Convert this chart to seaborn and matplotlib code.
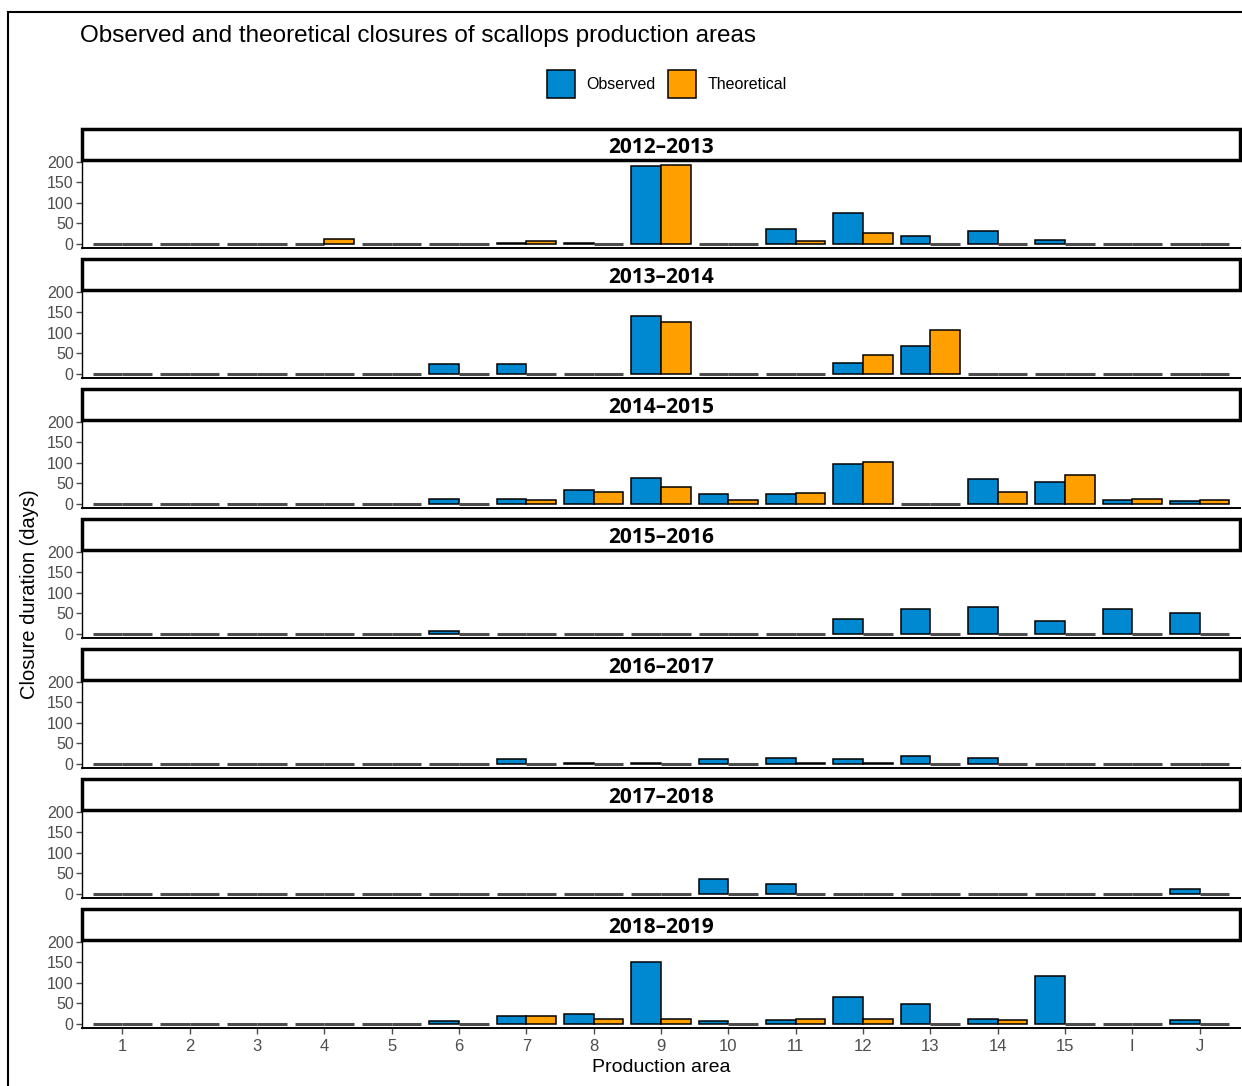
import matplotlib
matplotlib.use("Agg")
import matplotlib.pyplot as plt
from matplotlib.patches import Patch, Rectangle
import seaborn as sns
import pandas as pd

areas = ["1", "2", "3", "4", "5", "6", "7", "8", "9", "10", "11", "12", "13", "14", "15", "I", "J"]
seasons = ["2012–2013", "2013–2014", "2014–2015", "2015–2016", "2016–2017", "2017–2018", "2018–2019"]

obs_2012 = [0, 0, 0, 0, 0, 0, 3, 3, 190, 0, 36, 76, 19, 32, 9, 0, 0]
theo_2012 = [0, 0, 0, 13, 0, 0, 7, 0, 193, 0, 6, 26, 0, 0, 0, 0, 0]
obs_2013 = [0, 0, 0, 0, 0, 24, 24, 0, 140, 0, 0, 26, 67, 0, 0, 0, 0]
theo_2013 = [0, 0, 0, 0, 0, 0, 0, 0, 126, 0, 0, 47, 107, 0, 0, 0, 0]
obs_2014 = [0, 0, 0, 0, 0, 13, 13, 33, 63, 24, 23, 97, 0, 60, 54, 10, 6]
theo_2014 = [0, 0, 0, 0, 0, 0, 9, 30, 40, 10, 27, 103, 0, 30, 70, 13, 10]
obs_2015 = [0, 0, 0, 0, 0, 7, 0, 0, 0, 0, 0, 35, 61, 65, 32, 61, 52]
theo_2015 = [0] * 17
obs_2016 = [0, 0, 0, 0, 0, 0, 13, 3, 3, 13, 15, 13, 19, 15, 0, 0, 0]
theo_2016 = [0, 0, 0, 0, 0, 0, 0, 0, 0, 0, 3, 3, 0, 0, 0, 0, 0]
obs_2017 = [0, 0, 0, 0, 0, 0, 0, 0, 0, 36, 23, 0, 0, 0, 0, 0, 13]
theo_2017 = [0] * 17
obs_2018 = [0, 0, 0, 0, 0, 7, 20, 24, 151, 7, 10, 66, 49, 13, 117, 0, 10]
theo_2018 = [0, 0, 0, 0, 0, 0, 20, 13, 13, 0, 13, 13, 0, 10, 0, 0, 0]

observed = [obs_2012, obs_2013, obs_2014, obs_2015, obs_2016, obs_2017, obs_2018]
theoretical = [theo_2012, theo_2013, theo_2014, theo_2015, theo_2016, theo_2017, theo_2018]

rows = []
for season, obs, theo in zip(seasons, observed, theoretical):
    for a, o, t in zip(areas, obs, theo):
        rows.append((season, a, "Observed", o))
        rows.append((season, a, "Theoretical", t))
df = pd.DataFrame(rows, columns=["season", "area", "type", "days"])

types = ["Observed", "Theoretical"]
colors = {"Observed": "#0089D0", "Theoretical": "#FFA000"}
grey = "#4D4D4D"

sns.set_theme(style="ticks")
plt.rcParams["font.family"] = ["Liberation Sans", "DejaVu Sans"]
plt.rcParams["text.color"] = "black"

W, H = 1242, 1086
fig = plt.figure(figsize=(W / 100, H / 100), dpi=100)

for i, season in enumerate(seasons):
    top = 160 + 130 * i
    bot = 248 + 130 * i
    ax = fig.add_axes([82 / W, 1 - bot / H, (1240 - 82) / W, (bot - top) / H])
    sub = df[df["season"] == season]
    sns.barplot(data=sub, x="area", y="days", hue="type", order=areas, hue_order=types,
                palette=colors, saturation=1, edgecolor="black", linewidth=1.1, width=0.88,
                errorbar=None, legend=False, ax=ax)
    # zero-length bars show as flat grey strokes, as in the original
    for p in ax.patches:
        if p.get_height() == 0:
            p.set_edgecolor(grey)
            p.set_linewidth(2.2)
    ax.set_ylim(-10, 204)
    ax.set_xlim(-0.6, len(areas) - 0.4)
    ax.set_yticks([0, 50, 100, 150, 200])
    ax.set_xlabel("")
    ax.set_ylabel("")
    ax.set_facecolor("white")
    sns.despine(ax=ax)
    ax.spines["left"].set_color("black")
    ax.spines["bottom"].set_color("black")
    ax.spines["left"].set_linewidth(1.0)
    ax.spines["bottom"].set_linewidth(1.4)
    ax.tick_params(axis="y", labelsize=11.5, colors=grey, length=4, width=1, pad=2)
    if i < len(seasons) - 1:
        ax.tick_params(axis="x", length=0, labelbottom=False)
    else:
        ax.tick_params(axis="x", labelsize=12, colors=grey, length=4, width=1, pad=4)

    strip_h = 31 / (bot - top)
    ax.add_patch(Rectangle((0, 1), 1, strip_h, transform=ax.transAxes, clip_on=False,
                           facecolor="white", edgecolor="black", linewidth=2.5, zorder=5))
    ax.text(0.5, 1 + (strip_h / 2) - 3 / (bot - top), season, transform=ax.transAxes,
            ha="center", va="center", fontsize=15, fontweight="bold", color="black",
            family=["Open Sans", "DejaVu Sans"], zorder=6)

fig.text(80 / W, 1 - 36 / H, "Observed and theoretical closures of scallops production areas",
         fontsize=17.5, ha="left", va="center")
fig.text(30 / W, 1 - 594 / H, "Closure duration (days)", rotation=90,
         fontsize=14.5, ha="center", va="center")
fig.text(661 / W, 1 - 1068 / H, "Production area", fontsize=14, ha="center", va="center")

handles = [Patch(facecolor=colors[t], edgecolor="black", linewidth=1.1) for t in types]
fig.legend(handles=handles, labels=types, loc="center", bbox_to_anchor=(667 / W, 1 - 84 / H),
           ncol=2, frameon=False, handlelength=1.75, handleheight=2.4, handletextpad=0.7,
           columnspacing=0.8, fontsize=11.5)

fig.add_artist(Rectangle((8 / W, -0.1), 1.2, 1 - 12 / H + 0.1, transform=fig.transFigure,
                         fill=False, edgecolor="black", linewidth=1.5))

fig.savefig("out.png", dpi=100)
